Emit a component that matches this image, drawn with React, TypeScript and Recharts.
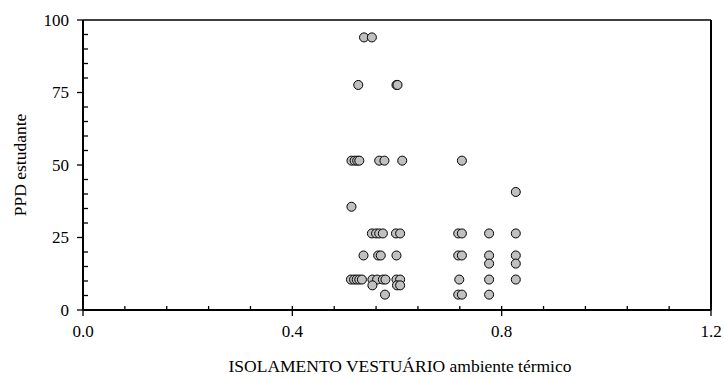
import { ScatterChart, Scatter, XAxis, YAxis, Label, ReferenceLine } from "recharts"

// clothing insulation (x) and student PPD (y)
const insulation = [
  0.537, 0.552,
  0.526, 0.599, 0.601,
  0.513, 0.519, 0.524, 0.528, 0.566, 0.576, 0.61, 0.724,
  0.827,
  0.513,
  0.552, 0.56, 0.566, 0.573, 0.598, 0.606, 0.717, 0.724, 0.776, 0.827,
  0.536, 0.564, 0.569, 0.599, 0.717, 0.724, 0.776, 0.827,
  0.776, 0.827,
  0.512, 0.518, 0.523, 0.528, 0.533, 0.553, 0.562, 0.573, 0.578, 0.599, 0.606, 0.719, 0.776, 0.827,
  0.553, 0.6, 0.606,
  0.577, 0.717, 0.724, 0.776,
]
const ppdStudent = [
  94, 94,
  77.6, 77.6, 77.6,
  51.5, 51.5, 51.5, 51.5, 51.5, 51.5, 51.5, 51.5,
  40.7,
  35.6,
  26.4, 26.4, 26.4, 26.4, 26.4, 26.4, 26.4, 26.4, 26.4, 26.4,
  18.8, 18.8, 18.8, 18.8, 18.8, 18.8, 18.8, 18.8,
  16, 16,
  10.5, 10.5, 10.5, 10.5, 10.5, 10.5, 10.5, 10.5, 10.5, 10.5, 10.5, 10.5, 10.5, 10.5,
  8.5, 8.5, 8.5,
  5.3, 5.3, 5.3, 5.3,
]

const xTicks = [0, 0.08, 0.16, 0.24, 0.32, 0.4, 0.48, 0.56, 0.64, 0.72, 0.8, 0.88, 0.96, 1.04, 1.12, 1.2]
const xMajor = [0, 0.4, 0.8, 1.2]
const yTicks = [0, 5, 10, 15, 20, 25, 30, 35, 40, 45, 50, 55, 60, 65, 70, 75, 80, 85, 90, 95, 100]
const yMajor = [0, 25, 50, 75, 100]

const data = insulation.map((x, i) => ({ x, y: ppdStudent[i] }))

const FONT = "'Liberation Serif', 'Times New Roman', serif"

const isMajor = (list: number[], v: number) => list.some((m) => Math.abs(m - v) < 1e-9)

function XTick({ x, y, payload }: any) {
  const major = isMajor(xMajor, payload.value)
  return (
    <g>
      <line x1={x} x2={x} y1={y - 4} y2={major ? y + 6 : y} stroke="#000" strokeWidth={1.3} />
      {major && (
        <text x={x} y={y + 21} dy="0.35em" textAnchor="middle" fontFamily={FONT} fontSize={17} fill="#000">
          {payload.value.toFixed(1)}
        </text>
      )}
    </g>
  )
}

function YTick({ x, y, payload }: any) {
  const major = isMajor(yMajor, payload.value)
  return (
    <g>
      <line x1={major ? x - 6 : x} x2={major ? x : x + 5} y1={y} y2={y} stroke="#000" strokeWidth={1.3} />
      {major && (
        <text x={x - 14} y={y} dy="0.35em" textAnchor="end" fontFamily={FONT} fontSize={17} fill="#000">
          {payload.value}
        </text>
      )}
    </g>
  )
}

export default function App() {
  return (
    <div style={{ position: "absolute", left: 0, top: 0, background: "#fff" }}>
      <ScatterChart width={724} height={380} margin={{ top: 20, right: 13, bottom: 0, left: 0 }}>
        <XAxis
          dataKey="x"
          type="number"
          domain={[0, 1.2]}
          ticks={xTicks}
          interval={0}
          height={70}
          tickSize={0}
          tickMargin={0}
          tickLine={false}
          axisLine={false}
          tick={<XTick />}
        >
          <Label
            content={({ viewBox }: any) => (
              <text
                x={viewBox.x + viewBox.width / 2 + 3}
                y={viewBox.y + 56}
                dy="0.35em"
                textAnchor="middle"
                fontFamily={FONT}
                fontSize={17.5}
                fill="#000"
              >
                ISOLAMENTO VESTUÁRIO ambiente térmico
              </text>
            )}
          />
        </XAxis>
        <YAxis
          dataKey="y"
          type="number"
          domain={[0, 100]}
          ticks={yTicks}
          interval={0}
          width={83}
          tickSize={0}
          tickMargin={0}
          tickLine={false}
          axisLine={false}
          tick={<YTick />}
        >
          <Label
            content={({ viewBox }: any) => {
              const cx = 20
              const cy = viewBox.y + viewBox.height / 2
              return (
                <text
                  x={cx}
                  y={cy}
                  dy="0.35em"
                  textAnchor="middle"
                  transform={`rotate(-90, ${cx}, ${cy})`}
                  fontFamily={FONT}
                  fontSize={17.5}
                  fill="#000"
                >
                  PPD estudante
                </text>
              )
            }}
          />
        </YAxis>
        {/* plot frame */}
        <ReferenceLine y={100} stroke="#000" strokeWidth={1.5} ifOverflow="visible" />
        <ReferenceLine x={1.2} stroke="#000" strokeWidth={2} ifOverflow="visible" />
        <ReferenceLine x={0} stroke="#000" strokeWidth={2} ifOverflow="visible" />
        <ReferenceLine y={0} stroke="#000" strokeWidth={2} ifOverflow="visible" />
        <Scatter data={data} fill="#c0c0c0" stroke="#000" strokeWidth={1} isAnimationActive={false} />
      </ScatterChart>
    </div>
  )
}
